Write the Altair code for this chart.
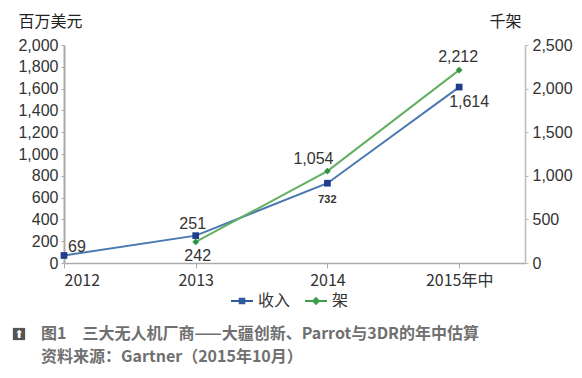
import json
import altair as alt
import pandas as pd

categories = ["2012", "2013", "2014", "2015年中"]
revenue = [69, 251, 732, 1614]          # 百万美元 (left axis)
units = [None, 242, 1054, 2212]         # 千架 (right axis)
series_names = ["收入", "架"]
left_ticks = list(range(0, 2001, 200))
right_ticks = list(range(0, 2501, 500))

FONT = "Liberation Sans, Noto Sans CJK SC, sans-serif"
CJK = "Noto Sans CJK SC, Liberation Sans, sans-serif"
BLUE_LINE, BLUE_PT = "#4a78b0", "#1f3d8c"
GREEN_LINE, GREEN_PT = "#62b062", "#2e9444"

rev_df = pd.DataFrame({"idx": range(len(categories)), "cat": categories,
                       "value": revenue})
unit_df = pd.DataFrame({"idx": range(len(categories)), "cat": categories,
                        "value": units}).dropna()
legend_df = pd.DataFrame({"series": series_names})

label_expr = f"{json.dumps(categories, ensure_ascii=False)}[datum.value]"
x_enc = alt.X("idx:Q", scale=alt.Scale(domain=[0, 3.5], nice=False, zero=False),
              axis=alt.Axis(values=[0, 1, 2, 3], labelExpr=label_expr, title=None,
                            grid=False, domainColor="#aaaaaa", domainWidth=1.5,
                            tickColor="#aaaaaa", tickSize=5, labelFontSize=16,
                            labelColor="#333333", labelPadding=4, labelFont=CJK))

yL = alt.Y("value:Q", scale=alt.Scale(domain=[0, 2000], nice=False),
           axis=alt.Axis(values=left_ticks, format=",.0f", grid=False, title="百万美元",
                         titleAngle=0, titleX=-46, titleY=-16, titleAlign="left",
                         titleBaseline="bottom", titleFontSize=16, titleFontWeight="normal",
                         titleFont=CJK, titleColor="#222222", domainColor="#aaaaaa",
                         domainWidth=2, tickColor="#aaaaaa", tickSize=3,
                         labelFontSize=16, labelColor="#333333", labelFont=FONT,
                         labelPadding=3))
yR = alt.Y("value:Q", scale=alt.Scale(domain=[0, 2500], nice=False),
           axis=alt.Axis(values=right_ticks, format=",.0f", grid=False, title="千架",
                         orient="right", titleAngle=0, titleX=-36, titleY=-16,
                         titleAlign="left", titleBaseline="bottom", titleFontSize=16,
                         titleFontWeight="normal", titleFont=CJK, titleColor="#222222",
                         domainColor="#bbbbbb", domainWidth=1.5, tickColor="#bbbbbb",
                         tickSize=3, labelFontSize=16, labelColor="#333333",
                         labelFont=FONT, labelPadding=4))

rev_base = alt.Chart(rev_df).encode(x=x_enc, y=yL)
unit_base = alt.Chart(unit_df).encode(x=x_enc, y=yR)

rev_line = rev_base.mark_line(color=BLUE_LINE, strokeWidth=2)
rev_pts = rev_base.mark_point(filled=True, size=45, opacity=1, shape="square",
                              color=BLUE_PT)


def lab(base, cat, dx, dy, align="center", size=16, weight="normal"):
    return base.transform_filter(alt.datum.cat == cat).mark_text(
        dx=dx, dy=dy, align=align, fontSize=size, fontWeight=weight,
        font=FONT, color="#333333").encode(text=alt.Text("value:Q", format=","))


rev_labels = [lab(rev_base, "2012", 4, -8, "left"),
              lab(rev_base, "2013", -3, -12),
              lab(rev_base, "2014", 0, 17, size=11, weight="bold"),
              lab(rev_base, "2015年中", 10, 15)]

unit_line = unit_base.mark_line(color=GREEN_LINE, strokeWidth=2)
unit_pts = unit_base.mark_point(filled=True, size=45, opacity=1, shape="diamond",
                                color=GREEN_PT)
unit_labels = [lab(unit_base, "2013", 2, 14),
               lab(unit_base, "2014", -14, -12),
               lab(unit_base, "2015年中", -1, -13)]

left = alt.layer(rev_line, rev_pts, *rev_labels)
right = alt.layer(unit_line, unit_pts, *unit_labels)

# legend-only layer (drawn off-canvas), its symbols are line+marker paths
sym_blue = "M-1,-0.1H1V0.1H-1Z M-0.3,-0.3H0.3V0.3H-0.3Z"
sym_green = "M-1,-0.1H1V0.1H-1Z M0,-0.38L0.38,0L0,0.38L-0.38,0Z"
legend_layer = alt.Chart(legend_df).mark_point(filled=True, opacity=1).encode(
    x=alt.value(-1000), y=alt.value(-1000),
    color=alt.Color("series:N", scale=alt.Scale(domain=series_names,
                    range=["#2f5a9e", "#3f9e4a"]),
                    legend=alt.Legend(title=None, orient="none", direction="horizontal",
                                      legendX=167, legendY=245, labelFontSize=16,
                                      labelFont=CJK, labelColor="#333333",
                                      symbolSize=484, symbolStrokeWidth=0,
                                      labelOffset=5, columnPadding=14)),
    shape=alt.Shape("series:N", scale=alt.Scale(domain=series_names,
                    range=[sym_blue, sym_green]), legend=None),
)

icon_df = pd.DataFrame({"k": [0]})
icon_bg = alt.Chart(icon_df).mark_square(size=150, color="#555555", opacity=1).encode(
    x=alt.value(-45), y=alt.value(289))
icon_fg = alt.Chart(icon_df).mark_text(text="⬆", color="white", fontSize=11,
                                       font="DejaVu Sans").encode(
    x=alt.value(-45), y=alt.value(290))

chart = alt.layer(left, right, legend_layer, icon_bg, icon_fg).resolve_scale(
    y="independent").properties(
    width=461, height=218,
    padding={"left": 56, "top": 37, "right": 49, "bottom": 107},
    autosize=alt.AutoSizeParams(type="none"),
    title=alt.TitleParams(
        text=["图1\u3000三大无人机厂商——大疆创新、Parrot与3DR的年中估算",
              "资料来源：Gartner（2015年10月）"],
        orient="bottom", anchor="start", frame="group", dx=-23, offset=-14,
        fontSize=16, font=CJK, fontWeight="bold", color="#707070", lineHeight=23),
).configure_view(stroke=None)

chart.save("out.html", embed_options={"renderer": "svg", "actions": False})
